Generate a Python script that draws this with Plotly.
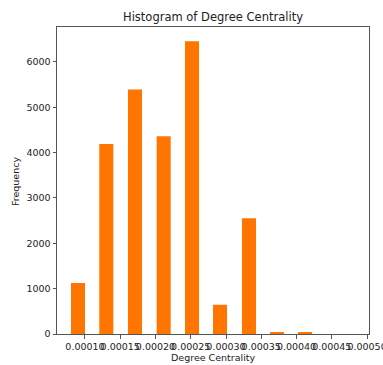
import plotly.graph_objects as go

# Histogram bins (centres) of degree centrality and their counts
bin_centers = [0.0000901, 0.0001302, 0.0001709, 0.0002116, 0.0002518,
               0.0002915, 0.0003326, 0.0003723, 0.0004121]
counts = [1125, 4190, 5390, 4360, 6455, 645, 2555, 35, 35]
bar_width = 0.0000199

x_ticks = [0.00010, 0.00015, 0.00020, 0.00025, 0.00030,
           0.00035, 0.00040, 0.00045, 0.00050]
y_ticks = [0, 1000, 2000, 3000, 4000, 5000, 6000]

FONT = "DejaVu Sans"
AXIS_COLOR = "#555555"

fig = go.Figure(
    go.Bar(
        x=bin_centers,
        y=counts,
        width=[bar_width] * len(bin_centers),
        marker=dict(color="#ff7500", line=dict(width=0)),
    )
)

fig.update_layout(
    width=383,
    height=365,
    margin=dict(l=57, r=14, t=27, b=31),
    paper_bgcolor="white",
    plot_bgcolor="white",
    showlegend=False,
    font=dict(family=FONT, size=9.5, color="#222222"),
    title=dict(
        text="Histogram of Degree Centrality",
        x=(213 / 383),
        xanchor="center",
        y=1 - 17 / 365,
        yanchor="middle",
        yref="container",
        font=dict(family=FONT, size=11.5, color="#222222"),
    ),
    annotations=[
        dict(text="Degree Centrality", xref="paper", yref="paper",
             x=0.5, y=-0.078, xanchor="center", yanchor="middle",
             showarrow=False, font=dict(family=FONT, size=9.5, color="#222222")),
        dict(text="Frequency", xref="paper", yref="paper",
             x=(15 - 57) / 312, y=(334 - 182) / 307, xanchor="center", yanchor="middle",
             textangle=-90, showarrow=False,
             font=dict(family=FONT, size=9.5, color="#222222")),
    ],
)

fig.update_xaxes(
    range=[0.0000603, 0.0005028],
    tickmode="array",
    tickvals=x_ticks,
    ticktext=[f"{v:.5f}" for v in x_ticks],
    tickangle=0,
    ticklabeloverflow="allow",
    automargin=False,
    ticks="outside",
    ticklen=3.5,
    tickcolor=AXIS_COLOR,
    showgrid=False,
    zeroline=False,
    showline=True,
    linecolor=AXIS_COLOR,
    linewidth=1,
    mirror=True,
)

fig.update_yaxes(
    range=[0, 6770],
    tickmode="array",
    tickvals=y_ticks,
    automargin=False,
    ticks="outside",
    ticklen=3.5,
    tickcolor=AXIS_COLOR,
    showgrid=False,
    zeroline=False,
    showline=True,
    linecolor=AXIS_COLOR,
    linewidth=1,
    mirror=True,
)

fig.write_html("out.html")
